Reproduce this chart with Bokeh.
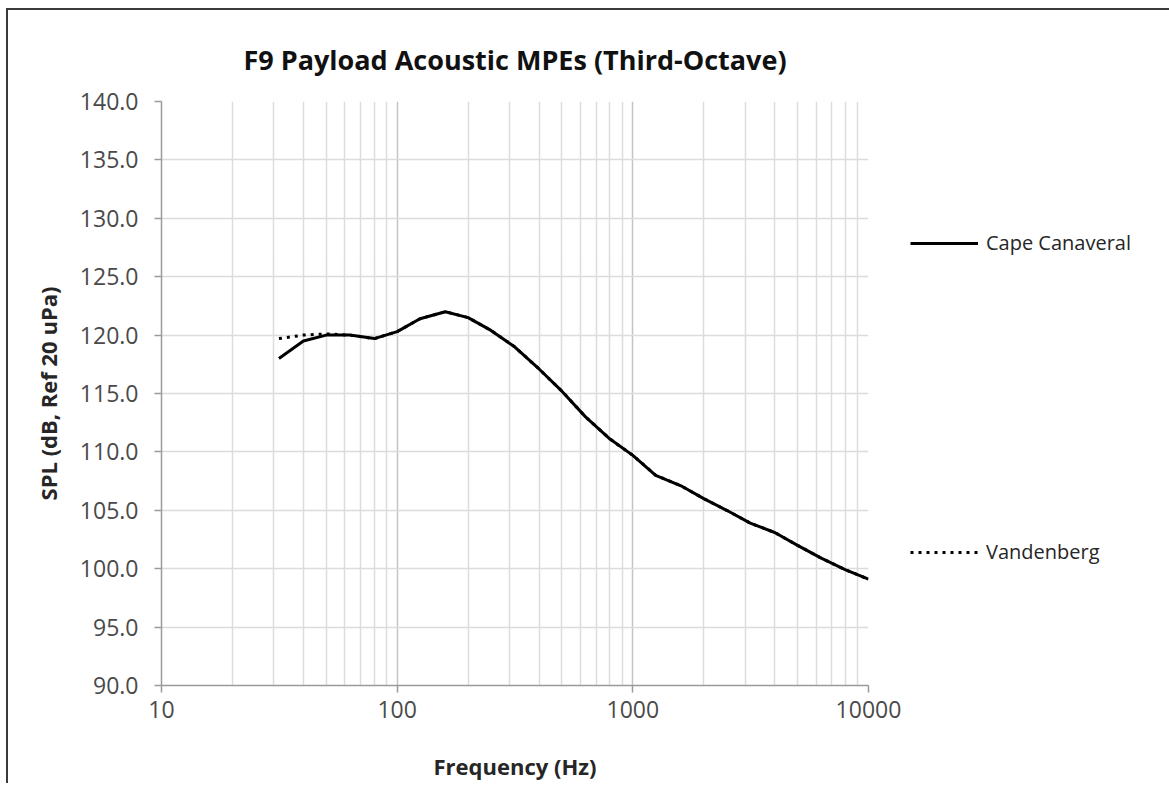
from bokeh.plotting import figure
from bokeh.models import (FixedTicker, NumeralTickFormatter, Legend, LegendItem, Range1d)
from bokeh.embed import file_html
from bokeh.resources import INLINE

# Third-octave band centre frequencies (Hz)
freq = [31.5, 40, 50, 63, 80, 100, 125, 160, 200, 250, 315, 400, 500, 630,
        800, 1000, 1250, 1600, 2000, 2500, 3150, 4000, 5000, 6300, 8000, 10000]
cape_canaveral = [118.0, 119.5, 120.0, 120.0, 119.7, 120.3, 121.4, 122.0, 121.5,
                  120.4, 119.0, 117.1, 115.2, 113.0, 111.1, 109.7, 108.0, 107.1,
                  106.0, 105.0, 103.9, 103.1, 102.0, 100.9, 99.9, 99.1]
vandenberg = [119.7, 120.0, 120.1, 120.0, 119.7, 120.3, 121.4, 122.0, 121.5,
              120.4, 119.0, 117.1, 115.2, 113.0, 111.1, 109.7, 108.0, 107.1,
              106.0, 105.0, 103.9, 103.1, 102.0, 100.9, 99.9, 99.1]

x_major = [10, 100, 1000, 10000]
x_minor = [m * d for d in (10, 100, 1000) for m in range(2, 10)]
y_ticks = [90 + 5 * i for i in range(11)]

TITLE = "F9 Payload Acoustic MPEs (Third-Octave)"
FONT = "Open Sans"

p = figure(frame_width=707, frame_height=584, x_axis_type="log",
           x_range=Range1d(10, 10000), y_range=Range1d(90, 140),
           output_backend="svg", toolbar_location=None,
           min_border_left=153, min_border_right=20,
           min_border_top=91, min_border_bottom=85)
p.styles = {"border-top": "2px solid #3a3a3a", "border-left": "2px solid #3a3a3a",
            "margin-left": "6px", "margin-top": "8px"}

p.title.text = TITLE
p.title.align = "center"
p.title.text_font = FONT
p.title.text_font_size = "27px"
p.title.text_font_style = "bold"
p.title.text_color = "#111111"
p.title.standoff = 47

p.outline_line_color = None

p.xaxis.ticker = FixedTicker(ticks=x_major, minor_ticks=x_minor)
p.xaxis.formatter = NumeralTickFormatter(format="0")
p.yaxis.ticker = FixedTicker(ticks=y_ticks)
p.yaxis.formatter = NumeralTickFormatter(format="0.0")

for ax in (p.xaxis, p.yaxis):
    ax.axis_line_color = "#9a9a9a"
    ax.axis_line_width = 1.5
    ax.major_tick_line_color = "#9a9a9a"
    ax.major_tick_line_width = 1.5
    ax.major_tick_out = 7
    ax.major_tick_in = 0
    ax.minor_tick_line_color = None
    ax.major_label_text_font = FONT
    ax.major_label_text_font_size = "23px"
    ax.major_label_text_color = "#4a4a4a"
    ax.axis_label_text_font = FONT
    ax.axis_label_text_font_size = "22px"
    ax.axis_label_text_font_style = "bold"
    ax.axis_label_text_color = "#262626"

p.xaxis.axis_label = "Frequency (Hz)"
p.yaxis.axis_label = "SPL (dB, Ref 20 uPa)"
p.xaxis.major_label_standoff = 8
p.yaxis.major_label_standoff = 16
p.xaxis.axis_label_standoff = 30
p.yaxis.axis_label_standoff = 14

p.xgrid.grid_line_color = "#c4c4c4"
p.xgrid.grid_line_width = 1.5
p.xgrid.minor_grid_line_color = "#dcdcdc"
p.xgrid.minor_grid_line_width = 1.5
p.ygrid.grid_line_color = "#dcdcdc"
p.ygrid.grid_line_width = 1.5

r_v = p.line(freq, vandenberg, line_color="black", line_width=3, line_dash="3 5")
r_c = p.line(freq, cape_canaveral, line_color="black", line_width=3)

legend = Legend(items=[LegendItem(label="Cape Canaveral", renderers=[r_c]),
                       LegendItem(label="Vandenberg", renderers=[r_v])],
                location=(42, 120), orientation="vertical")
legend.padding = 0
legend.margin = 0
legend.spacing = 282
legend.glyph_width = 68
legend.glyph_height = 20
legend.label_height = 20
legend.label_standoff = 8
legend.border_line_color = None
legend.background_fill_alpha = 0
legend.label_text_font = FONT
legend.label_text_font_size = "20px"
legend.label_text_color = "#262626"
p.add_layout(legend, "right")

open("out.html", "w").write(file_html(p, INLINE))
